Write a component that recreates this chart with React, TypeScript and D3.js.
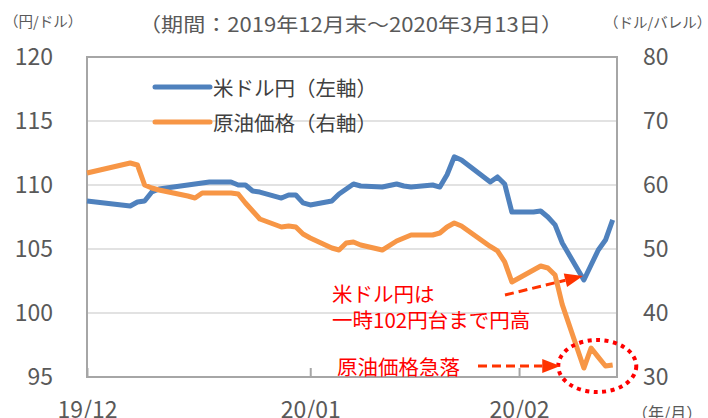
import React, { useRef, useEffect } from "react";
import * as d3 from "d3";

// business days shown in the chart
const dates = [
  "2019-12-31", "2020-01-06", "2020-01-07", "2020-01-08", "2020-01-09", "2020-01-10",
  "2020-01-14", "2020-01-15", "2020-01-16", "2020-01-17", "2020-01-20", "2020-01-21",
  "2020-01-22", "2020-01-23", "2020-01-24", "2020-01-27", "2020-01-28", "2020-01-29",
  "2020-01-30", "2020-01-31", "2020-02-03", "2020-02-04", "2020-02-05", "2020-02-06",
  "2020-02-07", "2020-02-10", "2020-02-12", "2020-02-13", "2020-02-14", "2020-02-17",
  "2020-02-18", "2020-02-19", "2020-02-20", "2020-02-21", "2020-02-25", "2020-02-26",
  "2020-02-27", "2020-02-28", "2020-03-02", "2020-03-03", "2020-03-04", "2020-03-05",
  "2020-03-06", "2020-03-09", "2020-03-10", "2020-03-11", "2020-03-12", "2020-03-13",
];

// 米ドル円 (円/ドル)
const usdJpy = [
  108.75, 108.36, 108.67, 108.75, 109.45, 109.69,
  110.0, 110.08, 110.16, 110.23, 110.23, 110.0,
  110.0, 109.53, 109.45, 108.98, 109.22, 109.22,
  108.6, 108.44, 108.75, 109.3, 109.69, 110.08,
  109.92, 109.84, 110.08, 109.92, 109.84, 110.0,
  109.84, 110.8, 112.2, 111.95, 110.23, 110.63,
  110.08, 107.89, 107.89, 107.97, 107.5, 106.88,
  105.47, 102.58, 103.75, 104.92, 105.7, 107.27,
];

// 原油価格 (ドル/バレル)
const oil = [
  61.88, 63.44, 63.13, 60.0, 59.53, 59.22,
  58.28, 57.97, 58.75, 58.75, 58.75, 58.6,
  57.19, 55.94, 54.69, 53.44, 53.59, 53.44,
  52.34, 51.72, 50.16, 49.84, 50.94, 51.09,
  50.63, 49.84, 51.25, 51.72, 52.19, 52.19,
  52.5, 53.44, 54.06, 53.59, 50.4, 49.7,
  48.0, 44.84, 46.72, 47.34, 47.03, 45.94,
  41.3, 31.4, 34.53, 33.1, 31.72, 31.88,
];

const leftTicks = [95, 100, 105, 110, 115, 120];
const rightTicks = [30, 40, 50, 60, 70, 80];
const monthTicks = ["2019-12-31", "2020-01-31", "2020-02-29"];
const monthLabels = ["19/12", "20/01", "20/02"];
const seriesNames = ["米ドル円（左軸）", "原油価格（右軸）"];
const seriesColors = ["#4F81BD", "#F79646"];

const FONT = "'Noto Sans CJK JP', 'Noto Sans', sans-serif";
const W = 708;
const H = 418;

const App = () => {
  const ref = useRef<SVGSVGElement>(null);

  useEffect(() => {
    const svg = d3.select(ref.current);
    svg.selectAll("*").remove();
    svg.attr("font-family", FONT);

    const left = 87, right = 617, top = 57, bottom = 377;
    const parse = d3.timeParse("%Y-%m-%d");
    const days = dates.map(d => parse(d) as Date);

    const x = d3.scaleTime()
      .domain([parse("2019-12-31") as Date, new Date(2020, 2, 13, 14, 24)])
      .range([left, right]);
    const yL = d3.scaleLinear().domain([95, 120]).range([bottom, top]);
    const yR = d3.scaleLinear().domain([30, 80]).range([bottom, top]);

    // gridlines
    svg.append("g")
      .selectAll("line")
      .data(leftTicks)
      .join("line")
      .attr("x1", left).attr("x2", right)
      .attr("y1", d => yL(d)).attr("y2", d => yL(d))
      .attr("stroke", "#d9d9d9")
      .attr("stroke-width", 1.5);

    // plot frame
    svg.append("rect")
      .attr("x", left).attr("y", top)
      .attr("width", right - left).attr("height", bottom - top)
      .attr("fill", "none")
      .attr("stroke", "#a6a6a6")
      .attr("stroke-width", 2);

    // left axis
    const gl = svg.append("g")
      .attr("transform", `translate(${left},0)`)
      .call(d3.axisLeft(yL).tickValues(leftTicks).tickSize(0).tickPadding(34));
    // right axis
    const gr = svg.append("g")
      .attr("transform", `translate(${right},0)`)
      .call(d3.axisRight(yR).tickValues(rightTicks).tickSize(0).tickPadding(26));
    // bottom axis
    const gb = svg.append("g")
      .attr("transform", `translate(0,${bottom})`)
      .call(d3.axisBottom(x)
        .tickValues(monthTicks.map(d => parse(d) as Date))
        .tickFormat((_, i) => monthLabels[i])
        .tickSizeInner(-9)
        .tickSizeOuter(0)
        .tickPadding(25));

    [gl, gr, gb].forEach(g => {
      g.select(".domain").remove();
      g.selectAll("text")
        .attr("font-family", FONT)
        .attr("font-size", 23)
        .attr("fill", "#595959");
      g.selectAll(".tick line").attr("stroke", "#a6a6a6").attr("stroke-width", 2);
    });

    // series
    const line = (yScale: d3.ScaleLinear<number, number>) =>
      d3.line<number>()
        .x((_, i) => x(days[i]))
        .y(d => yScale(d));

    svg.append("path")
      .datum(usdJpy)
      .attr("d", line(yL))
      .attr("fill", "none")
      .attr("stroke", seriesColors[0])
      .attr("stroke-width", 5)
      .attr("stroke-linejoin", "round");

    svg.append("path")
      .datum(oil)
      .attr("d", line(yR))
      .attr("fill", "none")
      .attr("stroke", seriesColors[1])
      .attr("stroke-width", 5)
      .attr("stroke-linejoin", "round");

    // legend
    const lg = svg.append("g");
    seriesNames.forEach((name, i) => {
      const ly = 87 + i * 35;
      lg.append("line")
        .attr("x1", 155).attr("x2", 210)
        .attr("y1", ly).attr("y2", ly)
        .attr("stroke", seriesColors[i])
        .attr("stroke-width", 5)
        .attr("stroke-linecap", "round");
      lg.append("text")
        .attr("x", 213).attr("y", ly)
        .attr("dominant-baseline", "central")
        .attr("font-size", 20.5)
        .attr("fill", "#404040")
        .text(name);
    });

    // titles and units
    const label = (tx: number, ty: number, s: string, size: number) =>
      svg.append("text")
        .attr("x", tx).attr("y", ty)
        .attr("dominant-baseline", "central")
        .attr("font-size", size)
        .attr("fill", "#595959")
        .text(s);

    label(139, 23, "（期間：2019年12月末～2020年3月13日）", 19.5)
      .attr("textLength", 424)
      .attr("lengthAdjust", "spacingAndGlyphs");
    label(4, 20, "（円/ドル）", 14.5);
    label(604, 21, "（ドル/バレル）", 14.5);
    label(632, 412, "（年/月）", 16);

    // annotations
    const red = "#FF0000";
    const arrowRed = "#FF3300";
    const note = (tx: number, ty: number, s: string) =>
      svg.append("text")
        .attr("x", tx).attr("y", ty)
        .attr("dominant-baseline", "central")
        .attr("font-size", 20.5)
        .attr("fill", red)
        .text(s);
    note(332, 293, "米ドル円は");
    note(332, 319, "一時102円台まで円高");
    note(337, 366, "原油価格急落");

    const arrow = (x0: number, y0: number, x1: number, y1: number) => {
      const len = Math.hypot(x1 - x0, y1 - y0);
      const ux = (x1 - x0) / len, uy = (y1 - y0) / len;
      const hl = 18, hw = 7;
      const bx = x1 - ux * hl, by = y1 - uy * hl;
      svg.append("line")
        .attr("x1", x0).attr("y1", y0)
        .attr("x2", bx).attr("y2", by)
        .attr("stroke", arrowRed)
        .attr("stroke-width", 3)
        .attr("stroke-dasharray", "9 5");
      svg.append("path")
        .attr("d", `M${x1},${y1}L${bx - uy * hw},${by + ux * hw}L${bx + uy * hw},${by - ux * hw}Z`)
        .attr("fill", arrowRed);
    };

    const minIdx = d3.minIndex(usdJpy);
    arrow(505, 295, x(days[minIdx]) - 1, yL(usdJpy[minIdx]) - 4);

    const cx = x(days[days.length - 3]) - 1;
    const cy = yR(d3.min(oil) as number) - 2;
    svg.append("ellipse")
      .attr("cx", cx).attr("cy", cy)
      .attr("rx", 39).attr("ry", 26)
      .attr("fill", "none")
      .attr("stroke", red)
      .attr("stroke-width", 4)
      .attr("stroke-dasharray", "4 4.5");
    arrow(478, 366, cx - 37, 366);
  }, []);

  return (
    <svg ref={ref} width={W} height={H}
      style={{ position: "absolute", left: 0, top: 0, background: "#fff" }} />
  );
};

export default App;
